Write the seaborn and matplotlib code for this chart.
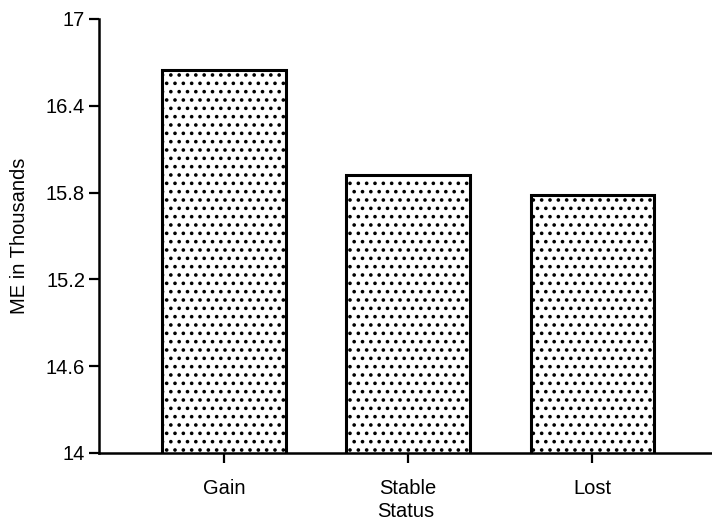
import matplotlib
matplotlib.use("Agg")
import matplotlib.pyplot as plt
import seaborn as sns
import pandas as pd

categories = ["Gain", "Stable", "Lost"]
values = [16.65, 15.92, 15.78]
yticks = [14, 14.6, 15.2, 15.8, 16.4, 17]
ytick_labels = ["14", "14.6", "15.2", "15.8", "16.4", "17"]

sns.set_theme(style="white")
plt.rcParams['font.family'] = ['Liberation Sans', 'DejaVu Sans']
plt.rcParams['hatch.linewidth'] = 1.4
plt.rcParams['hatch.color'] = 'black'
plt.rcParams['text.color'] = 'black'
plt.rcParams['axes.labelcolor'] = 'black'
plt.rcParams['xtick.color'] = 'black'
plt.rcParams['ytick.color'] = 'black'

df = pd.DataFrame({"Status": categories, "ME": values})

fig = plt.figure(figsize=(7.12, 5.2), dpi=100)
ax = fig.add_axes([0.139, 0.129, 0.861, 0.8345])
sns.barplot(data=df, x="Status", y="ME", color="white", width=0.67,
            edgecolor="black", linewidth=2.2, ax=ax)
for p in ax.patches:
    p.set_hatch("..")
    p.set_facecolor("white")
    p.set_edgecolor("black")

ax.set_ylim(14, 17)
ax.set_xlim(-0.678, 2.65)
ax.set_yticks(yticks)
ax.set_yticklabels(ytick_labels, fontsize=14.5)
ax.tick_params(axis='both', direction='out', length=7, width=1.6, color='black',
               left=True, bottom=True, pad=3)
ax.tick_params(axis='x', labelsize=14.5, pad=12)
ax.set_xlabel("Status", fontsize=14.5, labelpad=3)
ax.set_ylabel("ME in Thousands", fontsize=14.5, labelpad=12)
for s in ["top", "right"]:
    ax.spines[s].set_visible(False)
for s in ["left", "bottom"]:
    ax.spines[s].set_linewidth(1.8)
    ax.spines[s].set_color("black")

fig.savefig("out.png", dpi=100)
